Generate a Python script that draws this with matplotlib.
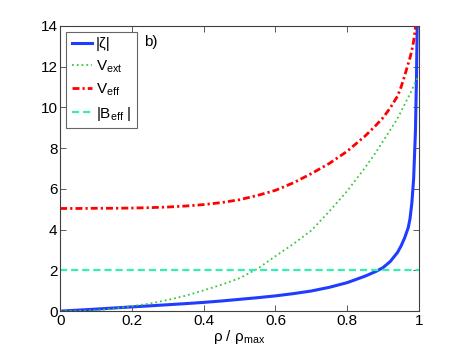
import matplotlib
matplotlib.use("Agg")
import matplotlib.pyplot as plt

plt.rcParams['font.family'] = ['Liberation Sans', 'DejaVu Sans']
plt.rcParams['mathtext.fontset'] = 'custom'
plt.rcParams['mathtext.rm'] = 'Liberation Sans'
plt.rcParams['mathtext.it'] = 'Liberation Sans:italic'
plt.rcParams['font.size'] = 11

# rho / rho_max sample points (denser near the wall)
rho = [0, 0.05, 0.1, 0.15, 0.2, 0.25, 0.3, 0.35, 0.4, 0.45, 0.5, 0.55, 0.6,
       0.65, 0.7, 0.75, 0.8, 0.85, 0.88, 0.9, 0.92, 0.94, 0.95, 0.96, 0.97,
       0.975, 0.98, 0.985, 0.99, 0.993, 0.996, 0.998]
# |zeta|
zeta = [0, 0.05, 0.10, 0.155, 0.21, 0.26, 0.315, 0.37, 0.43, 0.5, 0.58, 0.66,
        0.75, 0.86, 0.99, 1.17, 1.4, 1.72, 1.95, 2.14, 2.44, 2.88, 3.2, 3.6,
        4.1, 4.55, 5.3, 6.5, 8.8, 11.5, 15.5, 20.0]
# V_ext
v_ext = [0, 0.01, 0.04, 0.12, 0.25, 0.37, 0.55, 0.76, 1.02, 1.3, 1.62, 2.08,
         2.7, 3.3, 3.96, 4.9, 5.9, 7.05, 7.8, 8.35, 8.9, 9.45, 9.8, 10.15,
         10.5, 10.65, 10.85, 11.05, 11.25, 11.35, 11.45, 11.5]
# V_eff
v_eff = [5.04, 5.04, 5.05, 5.05, 5.06, 5.08, 5.11, 5.16, 5.23, 5.33, 5.47, 5.68,
         5.93, 6.3, 6.75, 7.25, 7.85, 8.6, 9.12, 9.5, 9.98, 10.55, 11.0, 11.55,
         12.15, 12.45, 12.8, 13.25, 13.9, 14.4, 15.0, 16.0]
# |B_eff|
b_rho = [0, 1]
b_eff = [2, 2]

labels = ['|ζ|', r'V$_{\rm ext}$', r'V$_{\rm eff}$', r'|B$_{\rm eff}$ |']

fig = plt.figure(figsize=(4.63, 3.5), dpi=100)
ax = fig.add_axes([0.13, 0.111, 0.775, 0.815])

ax.plot(rho, zeta, '-', color='#1f3cff', lw=2.2, label=labels[0])
ax.plot(rho, v_ext, ':', color='#3cc83c', lw=1.3, label=labels[1])
ax.plot(rho, v_eff, color='#ff0000', lw=2.0, dashes=(2.5, 1.1, 0.8, 1.1),
        label=labels[2])
ax.plot(b_rho, b_eff, color='#33f0b0', lw=1.6, dashes=(3.2, 1.8),
        label=labels[3])

ax.set_xlim(0, 1)
ax.set_ylim(0, 14)
ax.set_xticks([0, 0.2, 0.4, 0.6, 0.8, 1])
ax.set_xticklabels(['0', '0.2', '0.4', '0.6', '0.8', '1'])
ax.set_yticks(range(0, 15, 2))
ax.tick_params(direction='in', top=True, right=True, length=4, width=0.6,
               colors='#404040', labelcolor='k', labelsize=11, pad=2)
for s in ax.spines.values():
    s.set_color('#404040')
    s.set_linewidth(0.8)

ax.set_xlabel(r'ρ / ρ$_{\rm max}$', fontsize=11, labelpad=0)
ax.text(0.235, 13.0, 'b)', fontsize=11)

leg = ax.legend(loc='upper left', fancybox=False, handlelength=1.3,
                handletextpad=0.3, borderaxespad=0.4, labelspacing=0.45,
                fontsize=11, borderpad=0.35)
leg.get_frame().set_edgecolor('#404040')
leg.get_frame().set_linewidth(0.8)

fig.savefig('out.png', dpi=100)
